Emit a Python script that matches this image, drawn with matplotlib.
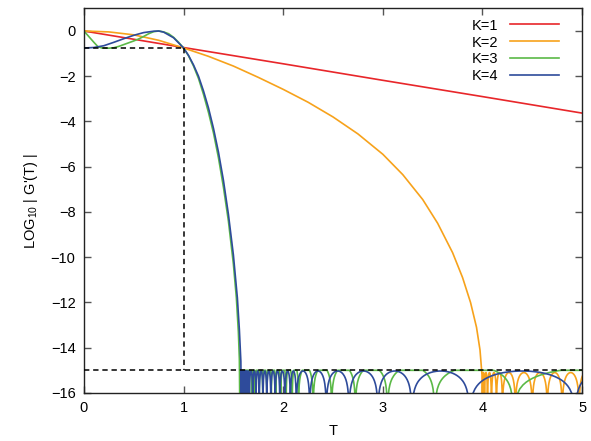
import numpy as np
import matplotlib
matplotlib.use("Agg")
import matplotlib.pyplot as plt

plt.rcParams['font.family'] = ['Liberation Sans', 'DejaVu Sans']
plt.rcParams['mathtext.fontset'] = 'custom'
plt.rcParams['mathtext.rm'] = 'Liberation Sans'
plt.rcParams['mathtext.it'] = 'Liberation Sans'

# ---- data ----
labels = ['K=1', 'K=2', 'K=3', 'K=4']
colors = ['#e8262a', '#f7a21b', '#5bb947', '#2e4b9b']

# K=1 : straight line
t1 = [0, 1, 2, 3, 4, 5]
y1 = [0, -0.73, -1.45, -2.18, -2.9, -3.63]

# K=2 : smooth decay down to the root at T=4
t2 = [0, 0.25, 0.5, 0.75, 1.0, 1.25, 1.5, 1.75, 2.0, 2.25, 2.5, 2.75,
      3.0, 3.2, 3.4, 3.55, 3.7, 3.8, 3.88, 3.94, 3.975, 3.995, 4.0]
y2 = [0, -0.04, -0.17, -0.41, -0.75, -1.12, -1.55, -2.05, -2.58, -3.15,
      -3.8, -4.55, -5.45, -6.35, -7.45, -8.5, -9.8, -10.9, -12.0, -13.1,
      -14.1, -15.2, -17]

# K=3
t3 = [0, 0.05, 0.1, 0.14, 0.18, 0.25, 0.3, 0.35, 0.4, 0.45, 0.5, 0.55, 0.6,
      0.65, 0.7, 0.75, 0.8, 0.85, 0.9, 0.95, 1.0, 1.05, 1.1, 1.15, 1.2,
      1.25, 1.3, 1.35, 1.4, 1.45, 1.5, 1.53, 1.55, 1.56, 1.565]
y3 = [0, -0.25, -0.5, -0.69, -0.75, -0.76, -0.74, -0.68, -0.6, -0.52, -0.44,
      -0.35, -0.24, -0.12, -0.03, 0, -0.04, -0.12, -0.28, -0.5, -0.75, -1.1,
      -1.55, -2.1, -2.8, -3.6, -4.5, -5.6, -6.9, -8.4, -10.3, -11.8, -13.3,
      -14.5, -17]

# K=4
t4 = [0, 0.1, 0.2, 0.3, 0.4, 0.5, 0.6, 0.7, 0.75, 0.8, 0.9, 1.0, 1.05, 1.1,
      1.15, 1.2, 1.25, 1.3, 1.35, 1.4, 1.45, 1.5, 1.54, 1.56, 1.575, 1.58]
y4 = [-0.75, -0.73, -0.65, -0.5, -0.34, -0.19, -0.07, -0.01, 0, -0.05, -0.3,
      -0.75, -1.08, -1.5, -2.0, -2.65, -3.4, -4.3, -5.35, -6.6, -8.1, -9.9,
      -11.8, -13.2, -14.6, -17]

# round-off noise arcs: positions of the dips and arc top level
zeros2 = [4.0, 4.02, 4.05, 4.09, 4.14, 4.20, 4.33, 4.50, 4.65, 4.80, 4.97, 5.1]
zeros3 = [1.565, 1.575, 1.588, 1.60, 1.613, 1.627, 1.643, 1.66, 1.688, 1.72,
          1.757, 1.795, 1.836, 1.88, 1.925, 1.975, 2.029, 2.09, 2.153, 2.301,
          2.486, 2.724, 3.046, 3.52, 4.31, 6.2]
zeros4 = [1.58, 1.588, 1.597, 1.607, 1.618, 1.63, 1.643, 1.66, 1.694, 1.727,
          1.760, 1.797, 1.835, 1.876, 1.919, 1.966, 2.017, 2.072, 2.131,
          2.266, 2.432, 2.66, 2.95, 3.29, 3.87, 4.93, 5.6]
top2, top3, top4 = -15.1, -14.85, -15.03


def arcs(zeros, top):
    xs, ys = [], []
    for a, b in zip(zeros[:-1], zeros[1:]):
        u = np.linspace(0, 1, 60)
        s = np.sin(np.pi * u)
        y = np.full_like(u, -17.0)
        ok = s > 1e-6
        y[ok] = np.minimum(top + np.log10(s[ok]), -15.0)
        xs.extend(a + (b - a) * u)
        ys.extend(np.maximum(y, -17))
    return xs, ys


fig = plt.figure(figsize=(5.91, 4.41), dpi=100)
ax = fig.add_axes([0.142, 0.109, 0.843, 0.872])

lw = 1.2
ax.plot(t1, y1, color=colors[0], lw=lw, label=labels[0])
x2, a2 = arcs(zeros2, top2)
ax.plot(list(t2) + x2, list(y2) + a2, color=colors[1], lw=lw, label=labels[1])
x3, a3 = arcs(zeros3, top3)
ax.plot(list(t3) + x3, list(y3) + a3, color=colors[2], lw=lw, label=labels[2])
x4, a4 = arcs(zeros4, top4)
ax.plot(list(t4) + x4, list(y4) + a4, color=colors[3], lw=lw, label=labels[3])

# guide lines
dash = dict(color='k', lw=1.1, dashes=(3.5, 2.5), zorder=5)
ax.plot([0, 1], [-0.75, -0.75], **dash)
ax.plot([1, 1], [-0.75, -15], **dash)
ax.plot([0, 5], [-15, -15], **dash)

ax.set_xlim(0, 5)
ax.set_ylim(-16, 1)
ax.set_xticks(range(0, 6))
ax.set_yticks(range(-16, 1, 2))
ax.tick_params(direction='in', length=5, width=1, top=True, right=True,
               labelsize=10.5, pad=6, color='#555555')
for sp in ax.spines.values():
    sp.set_linewidth(1)
    sp.set_color('#222222')

ax.set_xlabel('T', fontsize=10.5, labelpad=6)
ax.set_ylabel("LOG$_{10}$ | G'(T) |", fontsize=10.5, labelpad=8)

ax.legend(loc='upper right', frameon=False, markerfirst=False, fontsize=10.5,
          handlelength=3.4, handletextpad=0.8, labelspacing=0.2,
          borderaxespad=0.3, bbox_to_anchor=(0.975, 1.0))

fig.savefig('out.png', dpi=100)
